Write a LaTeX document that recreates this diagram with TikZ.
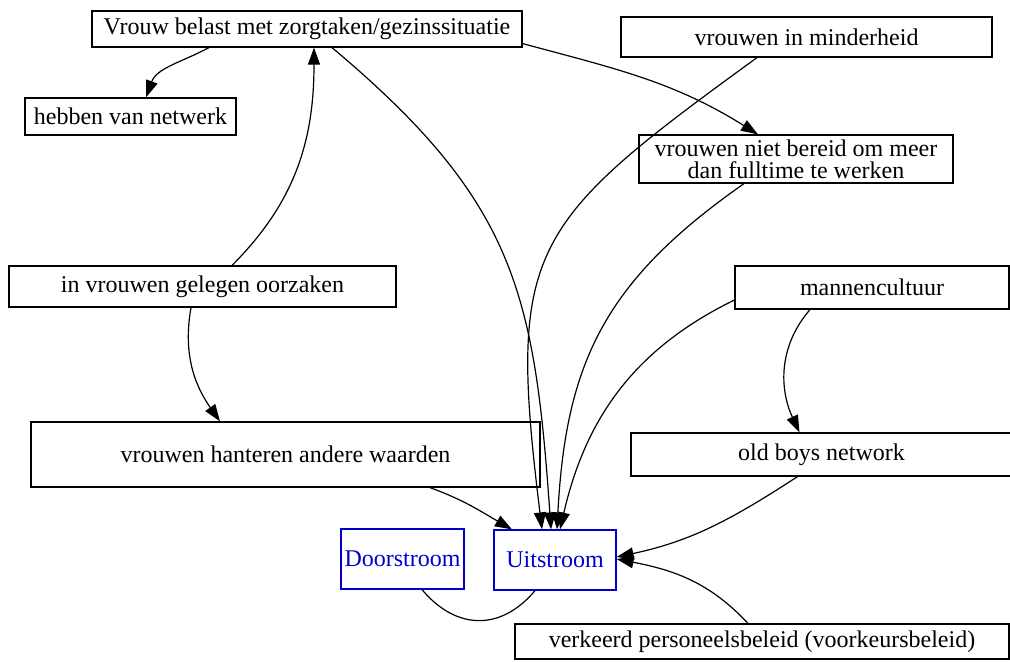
\documentclass[tikz,border=0pt]{standalone}
\usepackage{fontspec}
\setmainfont{Liberation Serif}
\usetikzlibrary{arrows.meta}
\definecolor{flowblue}{RGB}{0,0,205}
\tikzset{
  box/.style={draw, rectangle, inner sep=1pt, line width=0.6pt, align=center, font=\fontsize{12}{11}\selectfont},
  dims/.style 2 args={minimum width=#1*0.5pt, minimum height=#2*0.5pt},
  flow/.style={box, draw=flowblue, text=flowblue},
  arr/.style={line width=0.6pt, -{Triangle[length=8.5pt,width=6pt]}},
}
\begin{document}
\begin{tikzpicture}[x=0.5pt, y=-0.5pt]
\useasboundingbox (0,0) rectangle (1010,661);
\node[box, dims={430}{36}] (zorg) at (307,29) {Vrouw belast met zorgtaken/gezinssituatie};
\node[box, dims={211}{37}] (netwerk) at (130.5,116.5) {hebben van netwerk};
\node[box, dims={371}{40}] (minder) at (806.5,37) {vrouwen in minderheid};
\node[box, dims={314}{48}] (fulltime) at (796,159) {vrouwen niet bereid om meer\\dan fulltime te werken};
\node[box, dims={387}{41}] (oorzaken) at (202.5,286.5) {in vrouwen gelegen oorzaken};
\node[box, dims={274}{43}] (mannen) at (872,287.5) {mannencultuur};
\node[box, dims={509}{65}] (waarden) at (285.5,454.5) {vrouwen hanteren andere waarden};
\node[box, dims={381}{43}] (oldboys) at (821.5,454.5) {old boys network};
\node[flow, dims={123}{60}] (door) at (402.5,559) {Doorstroom};
\node[flow, dims={122}{60}] (uit) at (555,560) {Uitstroom};
\node[box, dims={494}{35}] (beleid) at (762,641.5) {verkeerd personeelsbeleid (voorkeursbeleid)};

% naar uitstroom
\draw[arr] ([shift={(25,0)}]zorg.south) to[out=-40,in=94,looseness=1.15] ([shift={(-4,0)}]uit.north);
\draw[arr] ([shift={(-49.5,0)}]minder.south) to[out=216,in=97,looseness=1.4] ([shift={(-13,0)}]uit.north);
\draw[arr] ([shift={(-52,0)}]fulltime.south) to[out=215,in=87,looseness=1.1] ([shift={(2,0)}]uit.north);
\draw[arr] ([shift={(0,12.5)}]mannen.west) to[out=206,in=77] ([shift={(5,0)}]uit.north);
\draw[arr] ([shift={(144.5,0)}]waarden.south) to[out=-20,in=150] ([shift={(-43,0)}]uit.north);
\draw[arr] ([shift={(-24,0)}]oldboys.south) to[out=213,in=12] ([shift={(0,-3)}]uit.east);
\draw[arr] ([shift={(-14,0)}]beleid.north) to[out=133,in=-11] ([shift={(0,-1)}]uit.east);

% overige
\draw[arr] ([shift={(-98,0)}]zorg.south) to[out=208,in=70] ([shift={(15.5,0)}]netwerk.north);
\draw[arr] ([shift={(0,-4)}]zorg.south east) to[out=-15,in=148] ([shift={(-38,0)}]fulltime.north);
\draw[arr] ([shift={(29.5,0)}]oorzaken.north) to[out=45,in=-90] ([shift={(7,0)}]zorg.south);
\draw[arr] ([shift={(-11.5,0)}]oorzaken.south) to[out=-100,in=125] ([shift={(-65.5,0)}]waarden.north);
\draw[arr] ([shift={(-62,0)}]mannen.south) to[out=229,in=115] ([shift={(-22,0)}]oldboys.north);
\draw[line width=0.6pt] ([shift={(19.5,0)}]door.south) to[out=-50,in=-130,looseness=1.2] ([shift={(-20,0)}]uit.south);
\end{tikzpicture}
\end{document}
